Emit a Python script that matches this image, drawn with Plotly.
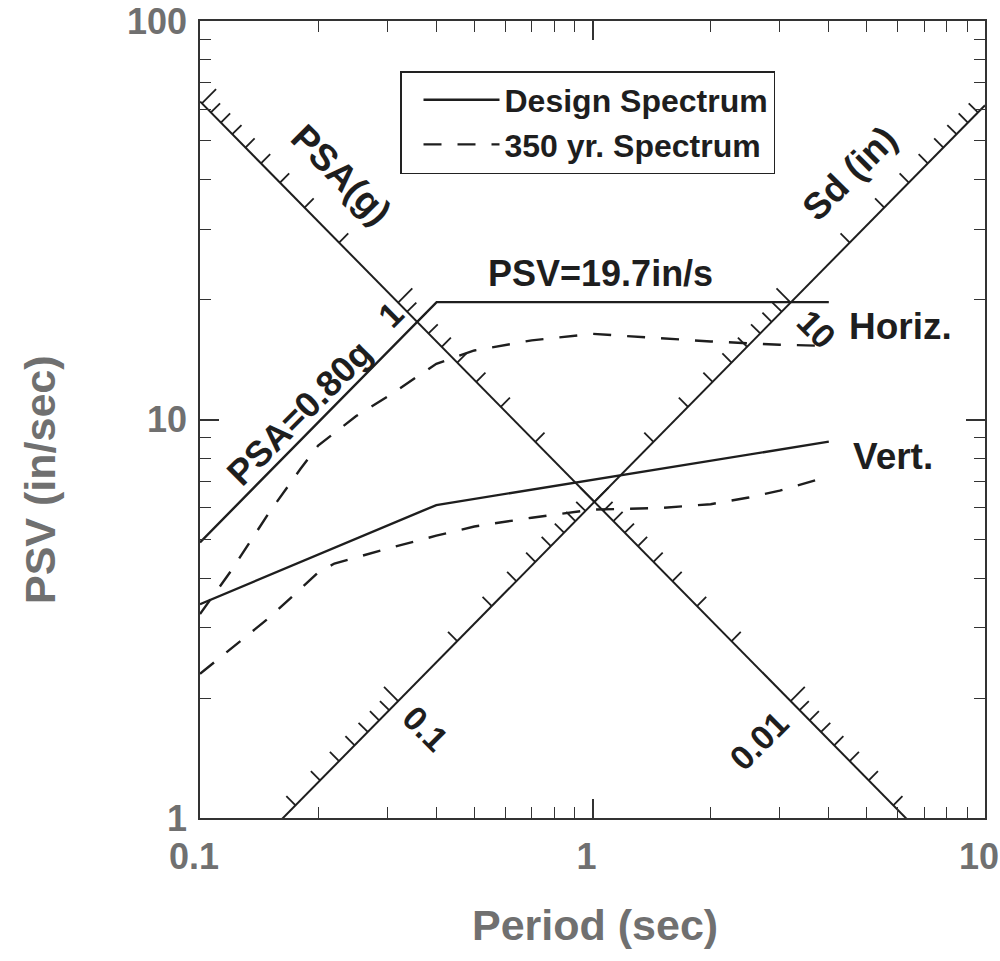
import numpy as np
import plotly.graph_objects as go

# ---------------------------------------------------------------------------
# Spectrum data: period (sec) and pseudo spectral velocity PSV (in/sec)
# ---------------------------------------------------------------------------
G_IN = 386.1                      # gravity, in/s^2
PSA_DESIGN = 0.80                 # design acceleration plateau, g
PSV_DESIGN = 19.7                 # design velocity plateau, in/s
T_START, T_END = 0.1, 4.0

design_v_period = [0.1, 0.4, 4.0]
design_v_psv = [3.44, 6.1, 8.8]

yr350_h_period = [0.1, 0.12, 0.15, 0.18, 0.2, 0.25, 0.3, 0.4, 0.5, 0.7, 1.0, 1.5, 2.0, 3.0, 4.0]
yr350_h_psv = [3.25, 4.17, 5.84, 7.5, 8.6, 10.2, 11.4, 13.8, 14.9, 15.8, 16.4, 16.0, 15.7, 15.4, 15.3]

yr350_v_period = [0.1, 0.15, 0.2, 0.22, 0.3, 0.4, 0.5, 0.7, 1.0, 1.5, 2.0, 2.5, 3.0, 4.0]
yr350_v_psv = [2.30, 3.18, 4.13, 4.35, 4.74, 5.11, 5.39, 5.67, 5.94, 6.0, 6.13, 6.37, 6.63, 7.2]

# Main axis ticks
x_tickvals = [0.1, 1, 10]
x_ticktext = ["0.1", "1", "10"]
y_tickvals = [1, 10, 100]
y_ticktext = ["1", "10", "100"]

# Diagonal scales: PSA scale runs along Sd = 1 in, Sd scale along PSA = 0.1 g
SD_OF_PSA_SCALE = 1.0
PSA_OF_SD_SCALE = 0.1
psa_ticks = [m * 10.0 ** e for e in (-3, -2, -1, 0, 1) for m in range(1, 10)]
sd_ticks = [m * 10.0 ** e for e in (-2, -1, 0, 1) for m in range(1, 10)]
psa_labels = {1.0: "1", 0.01: "0.01"}
sd_labels = {0.1: "0.1", 10.0: "10"}

# ---------------------------------------------------------------------------
# Layout geometry
# ---------------------------------------------------------------------------
W, H = 1000, 961
ML, MR, MT, MB = 200, 15, 21, 143
XDEC = (W - ML - MR) / 2.0       # px per decade, period axis
YDEC = (H - MT - MB) / 2.0       # px per decade, PSV axis
FONT = "Liberation Sans, Arial, Helvetica, sans-serif"
INK = "#1e1e1e"
GREY = "#707070"

TWO_PI = 2.0 * np.pi

# design horizontal spectrum: constant PSA branch then constant PSV branch
t_corner = TWO_PI * PSV_DESIGN / (PSA_DESIGN * G_IN)
design_h_period = [T_START, t_corner, T_END]
design_h_psv = [PSA_DESIGN * G_IN * T_START / TWO_PI, PSV_DESIGN, PSV_DESIGN]


def psv_const_sd(T, sd):
    return TWO_PI * sd / np.asarray(T, dtype=float)


def psv_const_psa(T, psa):
    return psa * G_IN * np.asarray(T, dtype=float) / TWO_PI


def tick_segments(points, direction, minor_len, major_len, majors):
    """Short perpendicular segments along a diagonal scale (log space)."""
    dx_s, dy_s = direction
    xs, ys = [], []
    for val, T, V in points:
        is_major = any(abs(np.log10(val) - np.log10(m)) < 1e-6 for m in majors)
        L = major_len if is_major else minor_len
        lx = dx_s * L / XDEC
        ly = dy_s * L / YDEC
        xs += [T, T * 10 ** lx, None]
        ys += [V, V * 10 ** ly, None]
    return xs, ys


fig = go.Figure()

# ---- spectra ----
LINE_W = 2.4
DASH = "18px,16px"
fig.add_trace(go.Scatter(x=design_h_period, y=design_h_psv, mode="lines",
                         line=dict(color=INK, width=LINE_W),
                         name="Design Spectrum", legendgroup="design"))
fig.add_trace(go.Scatter(x=design_v_period, y=design_v_psv, mode="lines",
                         line=dict(color=INK, width=LINE_W),
                         name="Design Spectrum", legendgroup="design", showlegend=False))
fig.add_trace(go.Scatter(x=yr350_h_period, y=yr350_h_psv, mode="lines",
                         line=dict(color=INK, width=LINE_W, dash=DASH),
                         name="350 yr. Spectrum", legendgroup="yr350"))
fig.add_trace(go.Scatter(x=yr350_v_period, y=yr350_v_psv, mode="lines",
                         line=dict(color=INK, width=LINE_W, dash=DASH),
                         name="350 yr. Spectrum", legendgroup="yr350", showlegend=False))

# ---- diagonal scale lines ----
T_line = [0.1, 10.0]
fig.add_trace(go.Scatter(x=T_line, y=psv_const_sd(T_line, SD_OF_PSA_SCALE), mode="lines",
                         line=dict(color=INK, width=2), showlegend=False, hoverinfo="skip"))
fig.add_trace(go.Scatter(x=T_line, y=psv_const_psa(T_line, PSA_OF_SD_SCALE), mode="lines",
                         line=dict(color=INK, width=2), showlegend=False, hoverinfo="skip"))

# unit perpendicular directions in (log-decade scaled) screen space
s = 1.0 / np.sqrt(2.0)
psa_dir = (s, s)      # ticks pointing up-right
sd_dir = (-s, s)      # ticks pointing up-left

psa_pts = []
for a in psa_ticks:
    T = np.sqrt(TWO_PI ** 2 * SD_OF_PSA_SCALE / (G_IN * a))
    V = psv_const_sd(T, SD_OF_PSA_SCALE)
    if 0.1 <= T <= 10 and 1 <= V <= 100:
        psa_pts.append((a, float(T), float(V)))
sd_pts = []
for d in sd_ticks:
    T = np.sqrt(TWO_PI * d * TWO_PI / (PSA_OF_SD_SCALE * G_IN))
    V = psv_const_psa(T, PSA_OF_SD_SCALE)
    if 0.1 <= T <= 10 and 1 <= V <= 100:
        sd_pts.append((d, float(T), float(V)))

tx, ty = tick_segments(psa_pts, psa_dir, 13, 20, [0.01, 0.1, 1, 10])
fig.add_trace(go.Scatter(x=tx, y=ty, mode="lines", line=dict(color=INK, width=1.8),
                         showlegend=False, hoverinfo="skip"))
tx, ty = tick_segments(sd_pts, sd_dir, 13, 20, [0.1, 1, 10])
fig.add_trace(go.Scatter(x=tx, y=ty, mode="lines", line=dict(color=INK, width=1.8),
                         showlegend=False, hoverinfo="skip"))

annotations = []


def note(text, T, V, angle=0, xs=0, ys=0, size=33, color=INK, xanchor="center"):
    annotations.append(dict(text=text, x=np.log10(T), y=np.log10(V), xref="x", yref="y",
                            showarrow=False, textangle=angle, xshift=xs, yshift=ys,
                            xanchor=xanchor, yanchor="middle",
                            font=dict(family=FONT, size=size, color=color, weight="bold")))


# tick labels on the diagonal scales
for a, T, V in psa_pts:
    for key, txt in psa_labels.items():
        if abs(a - key) < 1e-9:
            off = (-8, -12) if txt == "1" else (-32, -40)
            note(txt, T, V, angle=-45, xs=off[0], ys=off[1], size=34)
for d, T, V in sd_pts:
    for key, txt in sd_labels.items():
        if abs(d - key) < 1e-9:
            off = (27, -27) if txt == "0.1" else (26, -26)
            note(txt, T, V, angle=45, xs=off[0], ys=off[1], size=34)

# scale titles
t_psa_title = 0.183
note("PSA(g)", t_psa_title, psv_const_sd(t_psa_title, SD_OF_PSA_SCALE), angle=45, xs=38, ys=32, size=37)
t_sd_title = 5.48
note("Sd (in)", t_sd_title, psv_const_psa(t_sd_title, PSA_OF_SD_SCALE), angle=-45, xs=-33, ys=36, size=37)

# spectrum labels
t_psa_lbl = 0.195
note("PSA=0.80g", t_psa_lbl, psv_const_psa(t_psa_lbl, PSA_DESIGN), angle=-45, xs=-14, ys=14, size=36)
note("PSV=19.7in/s", 1.05, PSV_DESIGN, ys=29, size=36)
note("Horiz.", T_END, np.sqrt(design_h_psv[-1] * yr350_h_psv[-1]), xs=18, ys=-2, size=37, xanchor="left")
note("Vert.", T_END, np.sqrt(design_v_psv[-1] * yr350_v_psv[-1]), xs=22, ys=2, size=37, xanchor="left")

# axis titles
annotations.append(dict(text="PSV (in/sec)", x=(40 - ML) / (W - ML - MR), y=(H - MB - 480) / (H - MT - MB),
                        xref="paper", yref="paper", showarrow=False, textangle=-90,
                        xanchor="center", yanchor="middle",
                        font=dict(family=FONT, size=43, color=GREY, weight="bold")))
annotations.append(dict(text="Period (sec)", x=(595 - ML) / (W - ML - MR), y=(H - MB - 925) / (H - MT - MB),
                        xref="paper", yref="paper", showarrow=False,
                        xanchor="center", yanchor="middle",
                        font=dict(family=FONT, size=43, color=GREY, weight="bold")))

minor_x = [m * 10.0 ** e for e in (-1, 0) for m in range(2, 10)]
minor_y = [m * 10.0 ** e for e in (0, 1) for m in range(2, 10)]

axis_common = dict(type="log", showgrid=False, zeroline=False, showline=True,
                   linecolor="#333333", linewidth=1.5, mirror="allticks",
                   ticks="inside", ticklen=19, tickwidth=1.5, tickcolor="#333333",
                   ticklabeloverflow="allow", automargin=False,
                   tickfont=dict(family=FONT, size=36, color=GREY, weight="bold"))

fig.update_layout(
    width=W, height=H,
    margin=dict(l=ML, r=MR, t=MT, b=MB, autoexpand=False),
    paper_bgcolor="white", plot_bgcolor="white",
    xaxis=dict(range=[-1, 1], tickvals=x_tickvals, ticktext=x_ticktext,
               ticklabelstandoff=6, ticklabelshift=-6,
               minor=dict(tickvals=minor_x, ticks="inside", ticklen=11, tickwidth=1.3,
                          tickcolor="#333333"),
               **axis_common),
    yaxis=dict(range=[0, 2], tickvals=y_tickvals, ticktext=y_ticktext,
               ticklabelstandoff=4,
               minor=dict(tickvals=minor_y, ticks="inside", ticklen=11, tickwidth=1.3,
                          tickcolor="#333333"),
               **axis_common),
    showlegend=True,
    legend=dict(x=(400 - ML) / (W - ML - MR), y=(H - MB - 71) / (H - MT - MB),
                xanchor="left", yanchor="top", bgcolor="white",
                bordercolor="#222222", borderwidth=1.5, itemwidth=76, indentation=17,
                tracegroupgap=0,
                font=dict(family=FONT, size=32, color=INK, weight="bold")),
    annotations=annotations,
)

fig.write_html("out.html")
